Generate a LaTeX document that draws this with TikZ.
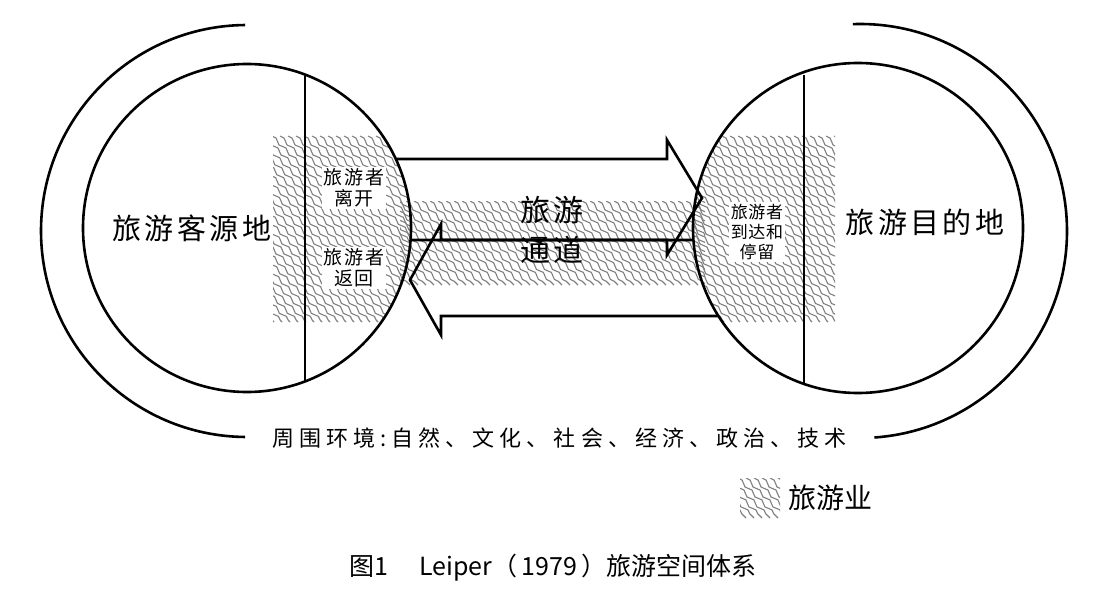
\documentclass[tikz,border=0pt]{standalone}
\usepackage{fontspec}
\setmainfont{Noto Sans CJK SC}
\usetikzlibrary{decorations.pathmorphing}
\begin{document}
\begin{tikzpicture}[x=1pt,y=-1pt,
  hatchline/.style={draw=black!50,line width=1.1pt,decorate,decoration={snake,segment length=14pt,amplitude=1.4pt}},
  outline/.style={line width=2.6pt,line join=miter},
  txt/.style={inner sep=2pt,align=center,font=\fontsize{19}{21}\selectfont\addfontfeatures{LetterSpace=8}},
  big/.style={font=\fontsize{29}{30}\selectfont\addfontfeatures{LetterSpace=12},inner sep=0pt}]
\useasboundingbox[fill=white] (0,0) rectangle (1106,591);
% hatch regions
\begin{scope}
  \clip (247,228) circle[radius=164];
  \clip (273,136) rectangle (420,322);
  \foreach \s in {80,88,...,420} \draw[hatchline] (\s,136) -- ++(186,186);
\end{scope}
\begin{scope}
  \clip (400,201) rectangle (705,285);
  \foreach \s in {310,318,...,710} \draw[hatchline] (\s,201) -- ++(84,84);
\end{scope}
\begin{scope}
  \clip (858,228) circle[radius=165];
  \clip (680,136) rectangle (835,322);
  \foreach \s in {490,498,...,840} \draw[hatchline] (\s,136) -- ++(186,186);
\end{scope}
\begin{scope}
  \clip (740,478) rectangle (780,518);
  \foreach \s in {690,698,...,790} \draw[hatchline] (\s,478) -- ++(40,40);
\end{scope}
% circles
\draw[outline] (247,228) circle[radius=164];
\draw[outline] (858,228) circle[radius=165];
\draw[line width=2.2pt] (305,76) -- (305,382);
\draw[line width=2.2pt] (804,75) -- (804,383);
\draw[outline] (247,231) ++(-90.5:206) arc[start angle=-90.5,end angle=-269.5,radius=206];
\draw[outline] (860,231) ++(-92:207) arc[start angle=-92,end angle=86,radius=207];
% arrows
\draw[outline] (396,159) -- (667,159) -- (667,140) -- (702,198) -- (667,255) -- (667,240) -- (411,240);
\draw[outline] (693,240) -- (441,240) -- (441,224) -- (410,280) -- (441,335) -- (441,316) -- (718,316);
% texts
\node[big] (src) at (192,228) {旅游客源地};
\node[big] (dst) at (925,222) {旅游目的地};
\node[txt,fill=white] (leave) at (354,188) {旅游者\\离开};
\node[txt,fill=white] (back) at (354,268) {旅游者\\返回};
\node[txt,fill=white,font=\fontsize{17}{20}\selectfont\addfontfeatures{LetterSpace=4}] (arr) at (757,232) {旅游者\\到达和\\停留};
\node[align=center,font=\fontsize{30}{40}\selectfont\addfontfeatures{LetterSpace=12}] (chan) at (552,230) {旅游\\通道};
\node[font=\fontsize{22}{24}\selectfont\addfontfeatures{LetterSpace=23},anchor=west,inner sep=0pt] (env) at (272,438) {周围环境:自然、文化、社会、经济、政治、技术};
\node[font=\fontsize{28}{30}\selectfont,anchor=west,inner sep=0pt] (leg) at (788,498) {旅游业};
\node[font=\fontsize{25}{28}\selectfont,inner sep=0pt] (cap) at (553,568) {图1\quad\ Leiper（\,1979\,）旅游空间体系};
\end{tikzpicture}
\end{document}
